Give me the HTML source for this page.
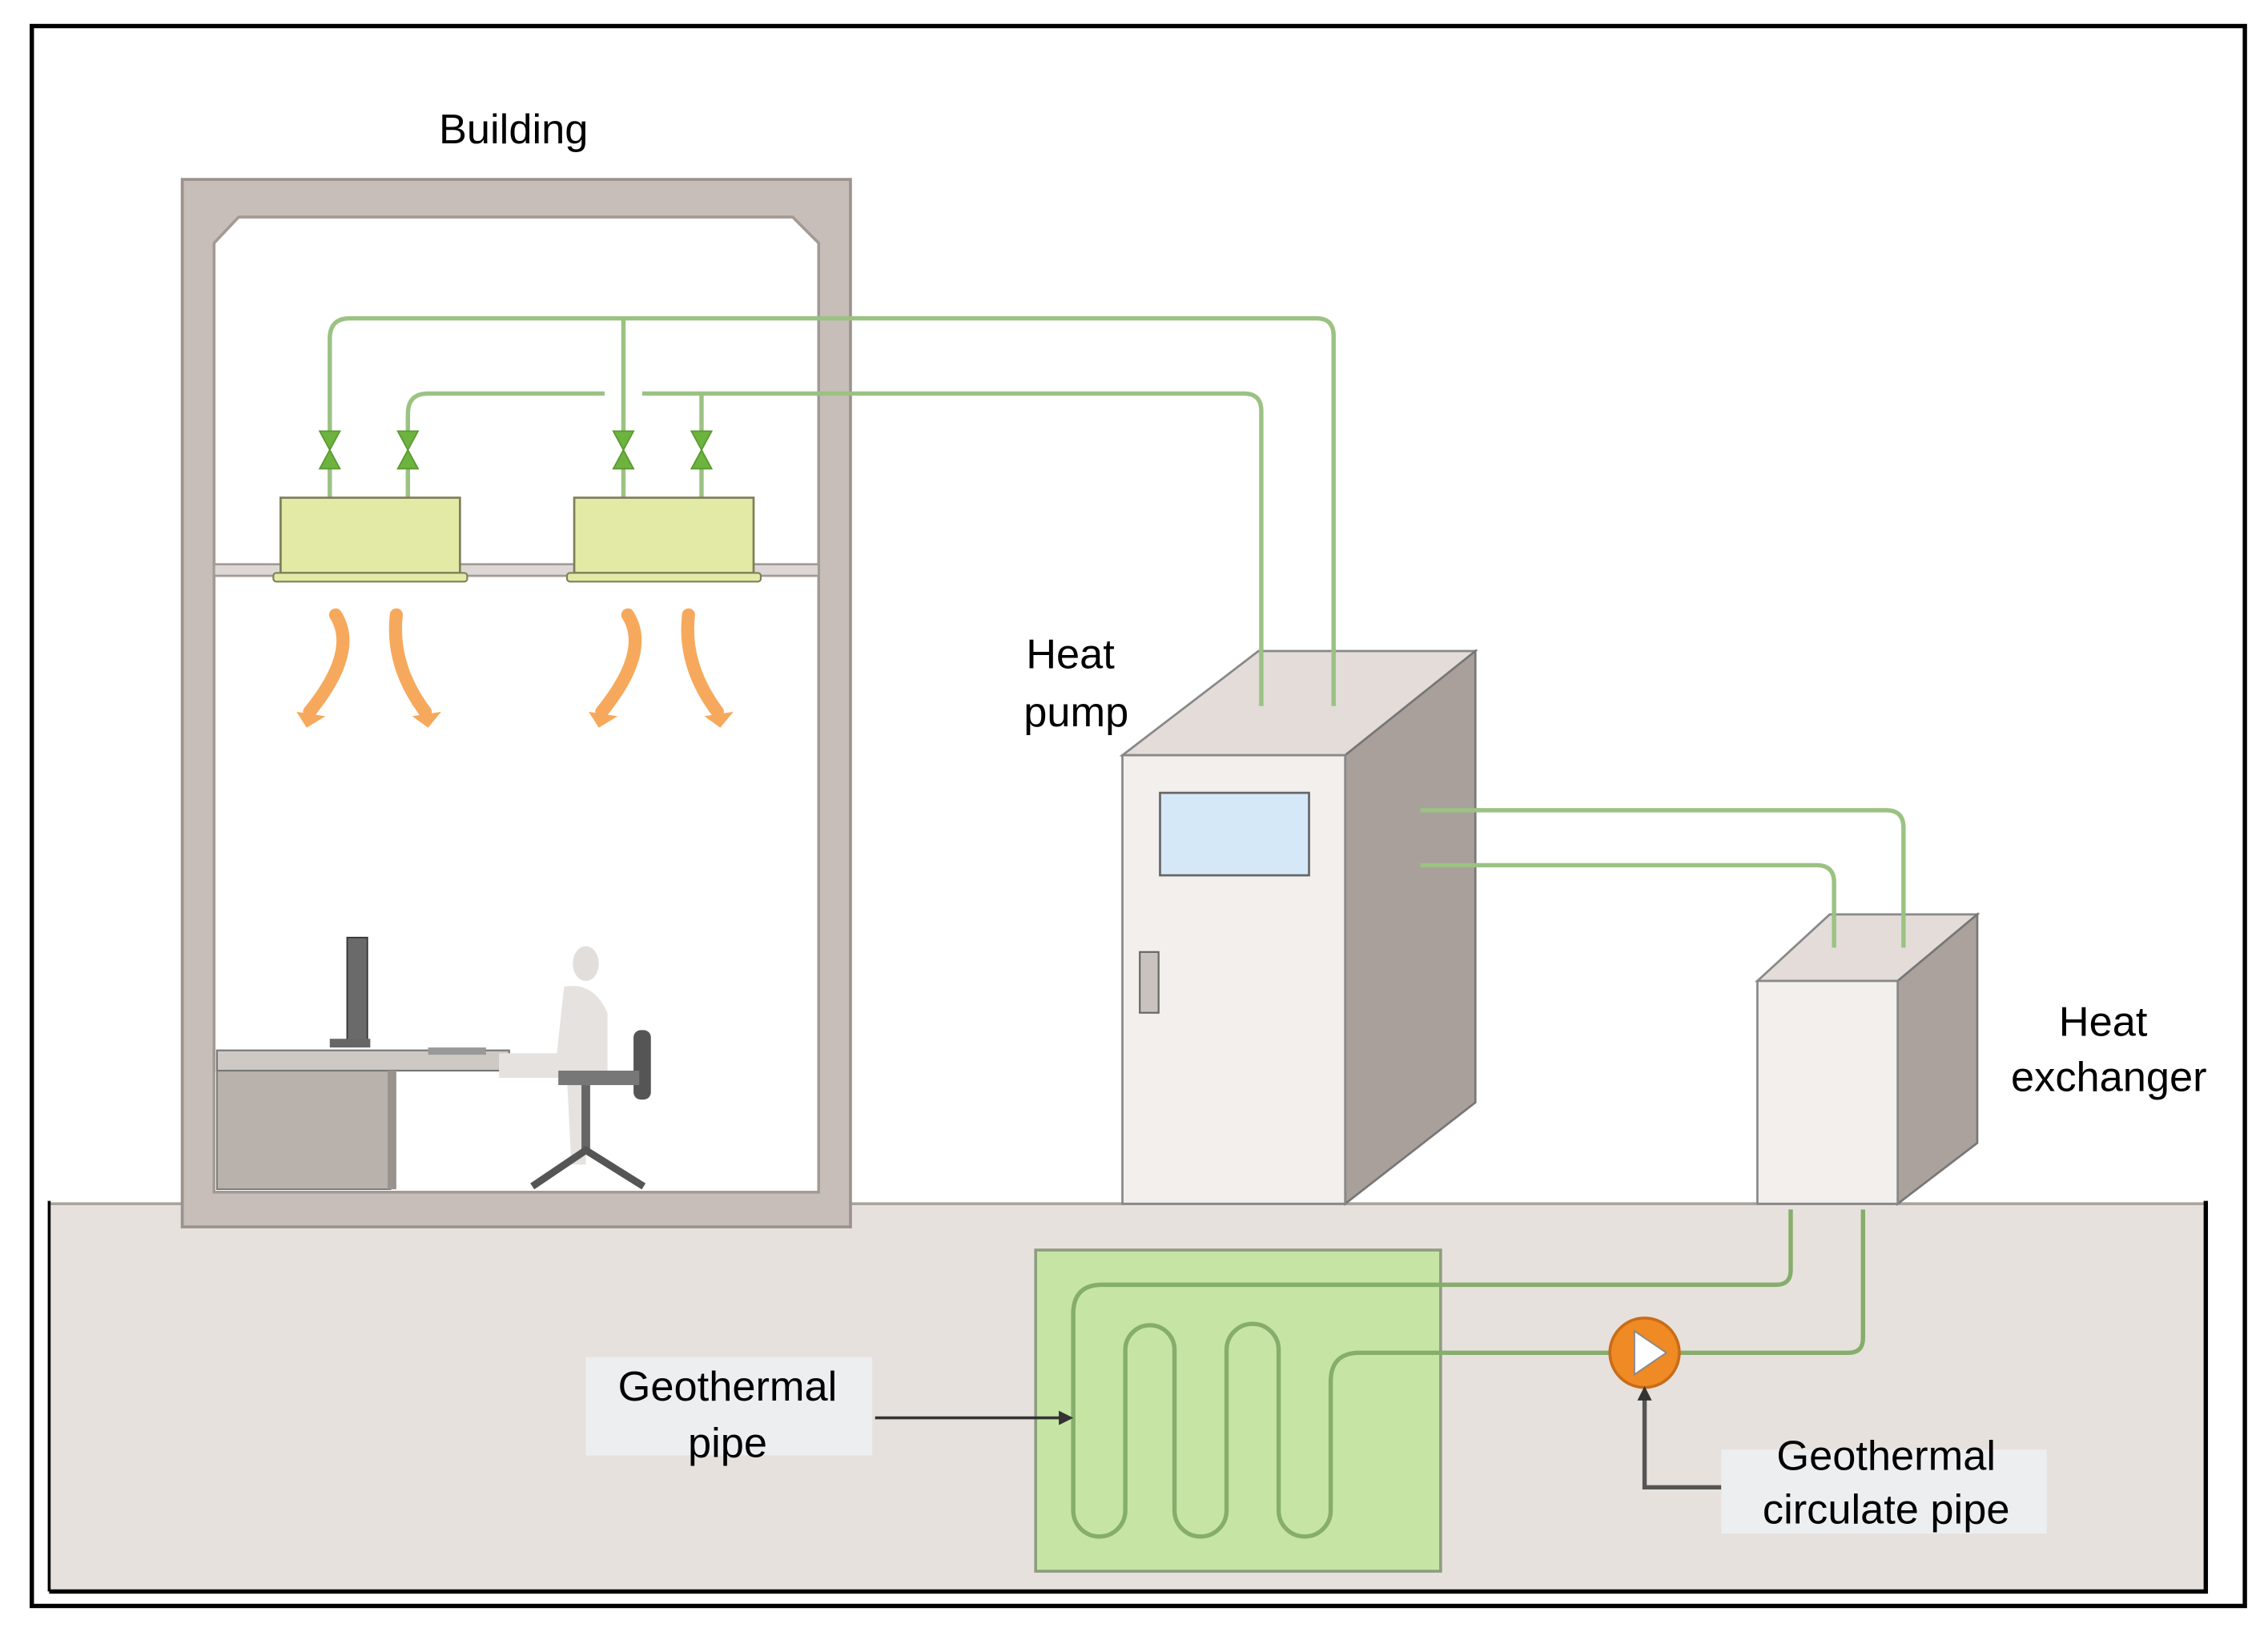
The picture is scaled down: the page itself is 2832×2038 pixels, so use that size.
<!DOCTYPE html>
<html><head><meta charset="utf-8"><style>html,body{margin:0;padding:0;background:#fff}svg{display:block}</style></head>
<body>
<svg width="2832" height="2038" viewBox="0 0 1568 1128" preserveAspectRatio="none" xmlns="http://www.w3.org/2000/svg" font-family="Liberation Sans, sans-serif">
<rect x="0" y="0" width="1568" height="1128" fill="#fff"/>
<rect x="22" y="18" width="1530" height="1092" fill="none" stroke="#000" stroke-width="3"/>
<!-- ground -->
<rect x="34" y="832" width="1491" height="268" fill="#e7e1dd"/>
<line x1="34" y1="832" x2="1525" y2="832" stroke="#aaa39e" stroke-width="2"/>
<polyline points="1525,830 1525,1100 34,1100" fill="none" stroke="#000" stroke-width="3"/>
<line x1="34" y1="830" x2="34" y2="1100" stroke="#000" stroke-width="2"/>
<!-- building -->
<rect x="126" y="124" width="462" height="724" fill="#c7beb9" stroke="#9b928d" stroke-width="2"/>
<polygon points="165,150 548,150 566,168 566,824 148,824 148,168" fill="#fff" stroke="#a39a95" stroke-width="2"/>
<rect x="148" y="390" width="418" height="8" fill="#ddd8d5" stroke="#a39a95" stroke-width="1.5"/>
<!-- heat pump -->
<polygon points="776,522 870,450 1020,450 930,522" fill="#e3dcd8" stroke="#888" stroke-width="1.5"/>
<polygon points="930,522 1020,450 1020,762 930,832" fill="#a9a09b" stroke="#777" stroke-width="1.5"/>
<rect x="776" y="522" width="154" height="310" fill="#f2efed" stroke="#888" stroke-width="1.5"/>
<rect x="802" y="548" width="103" height="57" fill="#d5e8f8" stroke="#666" stroke-width="1.5"/>
<rect x="788" y="658" width="13" height="42" fill="#c9c2be" stroke="#666" stroke-width="1.2"/>
<!-- heat exchanger -->
<polygon points="1215,678 1265,632 1367,632 1312,678" fill="#e3dcd8" stroke="#888" stroke-width="1.5"/>
<polygon points="1312,678 1367,632 1367,790 1312,832" fill="#aba29d" stroke="#777" stroke-width="1.5"/>
<rect x="1215" y="678" width="97" height="154" fill="#f2efed" stroke="#888" stroke-width="1.5"/>
<!-- pipes -->
<g fill="none" stroke="#9bc283" stroke-width="3">
<path d="M228,300 V234 q0,-14 14,-14 H910 q12,0 12,12 V488"/>
<path d="M431,220 V300"/>
<path d="M282,300 V286 q0,-14 14,-14 H418"/>
<path d="M444,272 H860 q12,0 12,12 V488"/>
<path d="M485,272 V300"/>
<path d="M228,322 V344 M282,322 V344 M431,322 V344 M485,322 V344"/>
<path d="M982,560 H1304 q12,0 12,12 V655"/>
<path d="M982,598 H1256 q12,0 12,12 V655"/>
</g>
<g fill="#6db33f" stroke="#5a9a30" stroke-width="1">
<polygon points="221,298 235,298 228,311"/><polygon points="221,324 235,324 228,311"/>
<polygon points="275,298 289,298 282,311"/><polygon points="275,324 289,324 282,311"/>
<polygon points="424,298 438,298 431,311"/><polygon points="424,324 438,324 431,311"/>
<polygon points="478,298 492,298 485,311"/><polygon points="478,324 492,324 485,311"/>
</g>
<!-- units -->
<rect x="194" y="344" width="124" height="52" fill="#e3eaa6" stroke="#7f7f5a" stroke-width="1.5"/>
<rect x="189" y="396" width="134" height="6" rx="2" fill="#e3eaa6" stroke="#7f7f5a" stroke-width="1.2"/>
<rect x="397" y="344" width="124" height="52" fill="#e3eaa6" stroke="#7f7f5a" stroke-width="1.5"/>
<rect x="392" y="396" width="134" height="6" rx="2" fill="#e3eaa6" stroke="#7f7f5a" stroke-width="1.2"/>
<!-- air arrows -->
<g fill="none" stroke="#f6a95c" stroke-width="9" stroke-linecap="round">
<path d="M232,425 Q248,450 214,492"/>
<path d="M274,425 Q270,460 294,492"/>
<path d="M434,425 Q450,450 416,492"/>
<path d="M476,425 Q472,460 496,492"/>
</g>
<g fill="#f6a95c">
<polygon points="205,492 225,495 212,503"/><polygon points="285,495 305,492 296,503"/>
<polygon points="407,492 427,495 414,503"/><polygon points="487,495 507,492 498,503"/>
</g>
<!-- desk & person -->
<rect x="150" y="740" width="120" height="82" fill="#b9b1ac" stroke="#777" stroke-width="1"/>
<rect x="150" y="726" width="202" height="14" fill="#cfc9c5" stroke="#777" stroke-width="1.2"/>
<rect x="268" y="740" width="6" height="82" fill="#9a928d"/>
<rect x="240" y="648" width="14" height="72" fill="#6a6a6a" stroke="#333"/>
<rect x="228" y="718" width="28" height="6" fill="#666"/>
<rect x="296" y="724" width="40" height="5" fill="#999"/>
<ellipse cx="405" cy="666" rx="9" ry="12" fill="#e2dedb"/>
<path d="M390,682 Q410,678 420,700 L420,740 L385,745 L345,745 L345,728 L385,728 Z" fill="#e6e2df"/>
<path d="M392,745 L395,805 L405,805 L405,750 Z" fill="#e6e2df"/>
<rect x="438" y="712" width="12" height="48" rx="5" fill="#555"/>
<rect x="386" y="740" width="56" height="10" fill="#777"/>
<rect x="402" y="750" width="6" height="45" fill="#666"/>
<path d="M368,820 L405,795 L445,820" fill="none" stroke="#555" stroke-width="5"/>
<!-- geothermal field -->
<rect x="716" y="864" width="280" height="222" fill="#c6e5a5" stroke="#8e9c80" stroke-width="2"/>
<path d="M1238,836 V878 q0,10 -10,10 H762 q-20,0 -20,20 V1044 a18,18 0 0 0 36,0 V933 a17,17 0 0 1 34,0 V1044 a18,18 0 0 0 36,0 V933 a18,18 0 0 1 36,0 V1044 a18,18 0 0 0 36,0 V955 q0,-20 20,-20 H1278 q10,0 10,-10 V836" fill="none" stroke="#86ad6c" stroke-width="3"/>
<circle cx="1137" cy="935" r="24" fill="#f08a24" stroke="#c86c18" stroke-width="2"/>
<polygon points="1130,920 1130,950 1152,935" fill="#fff" stroke="#888" stroke-width="1"/>
<!-- leader arrows -->
<path d="M1190,1028 H1137 V964" fill="none" stroke="#555" stroke-width="3"/>
<polygon points="1132,968 1142,968 1137,958" fill="#333"/>
<line x1="605" y1="980" x2="734" y2="980" stroke="#333" stroke-width="2"/>
<polygon points="732,975 742,980 732,985" fill="#333"/>
<!-- labels -->
<rect x="405" y="938" width="198" height="68" fill="#eceef0"/>
<rect x="1190" y="1002" width="225" height="58" fill="#eceef0"/>
<g font-size="29" fill="#000" text-anchor="middle">
<text x="355" y="99">Building</text>
<text x="740" y="462">Heat</text>
<text x="744" y="502">pump</text>
<text x="1454" y="716">Heat</text>
<text x="1458" y="754">exchanger</text>
<text x="503" y="968">Geothermal</text>
<text x="503" y="1007">pipe</text>
<text x="1304" y="1016">Geothermal</text>
<text x="1304" y="1053">circulate pipe</text>
</g>
</svg>
</body></html>
